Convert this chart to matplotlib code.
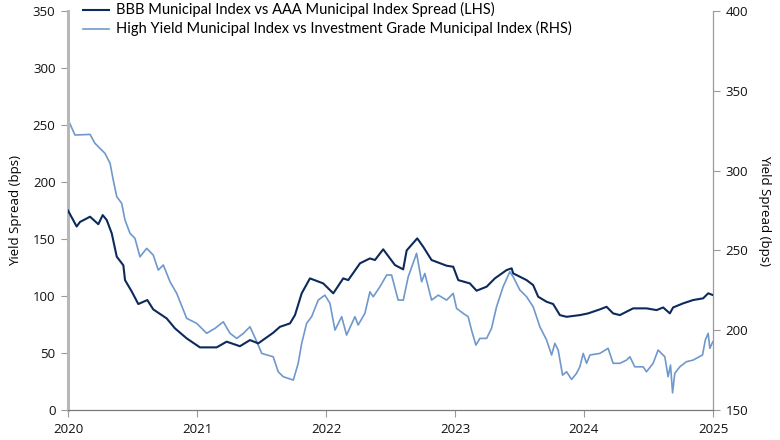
import pandas as pd
from matplotlib import pyplot as plt
import matplotlib.dates as mdates

# time positions in years after 1 Jan 2020, values in bps
bbb_t = [0.0, 0.067, 0.093, 0.171, 0.235, 0.269, 0.3, 0.339, 0.378, 0.429, 0.442, 0.494,
         0.545, 0.615, 0.661, 0.765, 0.829, 0.92, 1.023, 1.153, 1.23, 1.333, 1.411, 1.475,
         1.591, 1.643, 1.721, 1.76, 1.812, 1.876, 1.979, 2.057, 2.134, 2.173, 2.264, 2.341,
         2.38, 2.444, 2.535, 2.599, 2.626, 2.708, 2.754, 2.819, 2.936, 2.987, 3.026, 3.116,
         3.168, 3.246, 3.31, 3.401, 3.44, 3.452, 3.556, 3.607, 3.646, 3.711, 3.762, 3.814,
         3.866, 3.969, 4.033, 4.124, 4.176, 4.227, 4.279, 4.382, 4.486, 4.564, 4.615, 4.667,
         4.692, 4.77, 4.847, 4.925, 4.964, 5.0]
bbb_v = [175, 161, 165, 169.6, 163, 171, 166.7, 155, 134.5, 127, 114, 104,
         93, 96.5, 88.3, 80.4, 71.7, 62.9, 55, 55, 60, 56, 61.4, 58.5,
         67.8, 73, 76, 83.3, 102.4, 115.5, 111.1, 102.4, 115.5, 114, 128.7, 133,
         131.6, 141, 127.2, 123.4, 140, 150.6, 143.3, 131.6, 126.6, 125.7, 114, 111.1,
         104.7, 108.2, 115.5, 122.8, 124.3, 119.9, 114, 109.6, 99.4, 95, 93, 83.3,
         81.8, 83.3, 84.8, 88.3, 90.6, 84.8, 83.3, 89.2, 89.2, 87.7, 90, 84.8,
         90, 93.6, 96.5, 98, 102.4, 100.9]

hy_t = [0.0, 0.054, 0.171, 0.209, 0.287, 0.326, 0.351, 0.378, 0.416, 0.442, 0.481, 0.519,
        0.558, 0.61, 0.661, 0.7, 0.739, 0.791, 0.843, 0.92, 0.998, 1.075, 1.14, 1.204,
        1.256, 1.308, 1.359, 1.411, 1.463, 1.502, 1.591, 1.63, 1.669, 1.747, 1.785, 1.812,
        1.85, 1.889, 1.94, 1.992, 2.031, 2.07, 2.122, 2.16, 2.225, 2.25, 2.302, 2.341,
        2.367, 2.419, 2.471, 2.509, 2.56, 2.6, 2.638, 2.703, 2.742, 2.767, 2.819, 2.871,
        2.936, 2.987, 3.013, 3.064, 3.103, 3.129, 3.163, 3.194, 3.246, 3.284, 3.323, 3.374,
        3.426, 3.452, 3.504, 3.556, 3.607, 3.659, 3.711, 3.75, 3.775, 3.801, 3.835, 3.866,
        3.905, 3.943, 3.969, 3.995, 4.021, 4.047, 4.124, 4.188, 4.227, 4.279, 4.331, 4.357,
        4.395, 4.46, 4.486, 4.537, 4.576, 4.628, 4.653, 4.672, 4.688, 4.705, 4.744, 4.795,
        4.847, 4.92, 4.942, 4.964, 4.977, 5.0]
hy_v = [332, 322.3, 322.7, 317.1, 310.8, 304.6, 294, 283.7, 279.5, 269, 260.7, 257.6,
        246, 251.3, 247.1, 237.7, 240.9, 230.4, 223.1, 207.5, 204.3, 198.1, 201.2, 205.3,
        198.1, 194.9, 198, 202.2, 193, 185.5, 183.4, 174, 170.9, 168.8, 179.3, 191.8,
        204.3, 208.5, 218.9, 222, 216.9, 200.1, 208.5, 197, 208.5, 203.3, 210.6, 224.1,
        221, 227.3, 234.6, 234.6, 218.9, 218.9, 233.5, 248.2, 230.4, 235.6, 218.9, 222,
        218.9, 223.1, 213.7, 210.6, 208.5, 200.1, 190.7, 194.9, 194.9, 201.2, 214.7, 227.3,
        236.7, 233.5, 225.2, 221, 214.7, 202.2, 193.9, 184.5, 191.8, 187.6, 171.9, 174,
        169.2, 173, 177.1, 185.5, 179.3, 184.5, 185.5, 188.7, 179.3, 179.3, 181.3, 183.4,
        177.1, 177.1, 174, 179.3, 187.6, 183.4, 170.9, 178.2, 160.8, 173, 177.1, 180.3,
        181.3, 184.5, 193.9, 198.1, 188.7, 192.8]

bbb_label = 'BBB Municipal Index vs AAA Municipal Index Spread (LHS)'
hy_label = 'High Yield Municipal Index vs Investment Grade Municipal Index (RHS)'
ylabel = 'Yield Spread (bps)'

DARK = '#0d2a5c'
LIGHT = '#6f98cc'
GREY = '#9a9a9a'

plt.rcParams['font.family'] = ['Open Sans', 'DejaVu Sans']


def to_dates(t):
    return pd.Timestamp('2020-01-01') + pd.to_timedelta([x * 365.25 for x in t], unit='D')


fig = plt.figure(figsize=(7.8, 4.4), dpi=100)
ax = fig.add_axes([0.0872, 0.068, 0.8270, 0.907])
ax2 = ax.twinx()

l1, = ax.plot(to_dates(bbb_t), bbb_v, color=DARK, lw=1.5, label=bbb_label, zorder=3)
l2, = ax2.plot(to_dates(hy_t), hy_v, color=LIGHT, lw=1.2, label=hy_label)
ax.set_zorder(ax2.get_zorder() + 1)
ax.patch.set_visible(False)

ax.set_ylim(0, 350)
ax.set_yticks(range(0, 351, 50))
ax2.set_ylim(150, 400)
ax2.set_yticks(range(150, 401, 50))
ax.set_xlim(pd.Timestamp('2020-01-01'), pd.Timestamp('2025-01-01'))
ax.xaxis.set_major_locator(mdates.YearLocator())
ax.xaxis.set_major_formatter(mdates.DateFormatter('%Y'))

for a in (ax, ax2):
    a.spines['top'].set_visible(False)
    a.tick_params(length=5, width=0.8, color=GREY, labelsize=9.5, labelcolor='#111111', pad=4)
ax.spines['right'].set_visible(False)
ax.spines['left'].set_color('#b8b8b8')
ax.spines['left'].set_linewidth(2.2)
ax.spines['bottom'].set_color('#7a7a7a')
ax.spines['bottom'].set_linewidth(0.9)
ax2.spines['left'].set_visible(False)
ax2.spines['bottom'].set_visible(False)
ax2.spines['right'].set_color(GREY)
ax2.spines['right'].set_linewidth(0.9)

ax.set_ylabel(ylabel, fontsize=9.5, labelpad=8)
ax2.set_ylabel(ylabel, fontsize=9.5, rotation=270, labelpad=16)

leg = ax.legend(handles=[l1, l2], loc='upper left', bbox_to_anchor=(0.015, 1.035),
                frameon=False, fontsize=9.5, handlelength=2.0, handletextpad=0.5,
                labelspacing=0.3, borderaxespad=0)
for t in leg.get_texts():
    t.set_family(['Lato', 'DejaVu Sans'])
    t.set_fontsize(10.5)

fig.savefig('out.png', dpi=100)
